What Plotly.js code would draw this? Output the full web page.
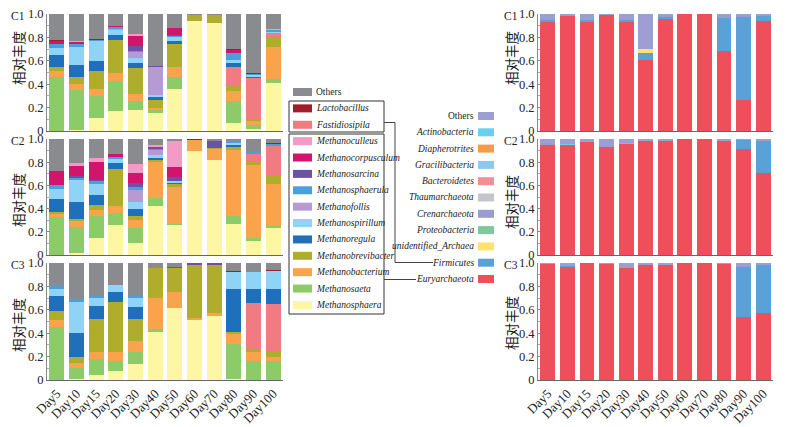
<!DOCTYPE html>
<html><head><meta charset="utf-8">
<script src="https://cdn.plot.ly/plotly-3.0.1.min.js"></script>
<style>html,body{margin:0;padding:0;background:#fff}#chart{width:799px;height:427px}</style>
</head><body><div id="chart"></div>
<script>
// ---------- categories ----------
const days = ["Day5","Day10","Day15","Day20","Day30","Day40","Day50","Day60","Day70","Day80","Day90","Day100"];

// ---------- genus level (left) : stack order bottom -> top ----------
const genera = ["Methanosphaera","Methanosaeta","Methanobacterium","Methanobrevibacter","Fastidiosipila","Methanoregula","Methanospirillum","Methanofollis","Methanosphaerula","Methanosarcina","Methanocorpusculum","Methanoculleus","Lactobacillus","Others"];
const genusColors = ["#fdf6a3","#8dca68","#f9a34d","#b1ad2c","#f07b80","#1f6fba","#8fd4f6","#b59bd2","#4aa0dc","#6b52a6","#d2146c","#f49ac6","#9e1f2b","#8a8b8f"];
const genusLegendOrder = ["Others","Lactobacillus","Fastidiosipila","Methanoculleus","Methanocorpusculum","Methanosarcina","Methanosphaerula","Methanofollis","Methanospirillum","Methanoregula","Methanobrevibacter","Methanobacterium","Methanosaeta","Methanosphaera"];

// C1
const c1_Methanosphaera     = [0, 0.01, 0.115, 0.17, 0.18, 0.155, 0.36, 0.94, 0.92, 0.07, 0.02, 0.41];
const c1_Methanosaeta       = [0.46, 0.34, 0.185, 0.26, 0.075, 0.025, 0.10, 0, 0, 0.19, 0.03, 0.035];
const c1_Methanobacterium   = [0.05, 0.05, 0.06, 0.07, 0.06, 0.02, 0.09, 0, 0, 0.08, 0.035, 0.275];
const c1_Methanobrevibacter = [0.035, 0.06, 0.15, 0.275, 0.225, 0.065, 0.195, 0.05, 0.07, 0.055, 0.015, 0.08];
const c1_Fastidiosipila     = [0, 0, 0, 0, 0, 0, 0, 0, 0, 0.155, 0.355, 0.04];
const c1_Methanoregula      = [0.105, 0.105, 0.09, 0.045, 0.04, 0.025, 0.025, 0, 0, 0.03, 0.01, 0];
const c1_Methanospirillum   = [0.06, 0.15, 0.165, 0.045, 0.045, 0.02, 0.03, 0, 0, 0.03, 0.01, 0.01];
const c1_Methanofollis      = [0, 0, 0, 0.01, 0.05, 0.235, 0, 0, 0, 0, 0, 0];
const c1_Methanosphaerula   = [0.035, 0.03, 0.015, 0.01, 0.005, 0, 0.01, 0, 0, 0.06, 0.01, 0.01];
const c1_Methanosarcina     = [0, 0, 0, 0, 0.05, 0.01, 0.01, 0, 0, 0, 0, 0];
const c1_Methanocorpusculum = [0.02, 0.015, 0, 0.01, 0.085, 0, 0.06, 0, 0, 0.02, 0, 0];
const c1_Methanoculleus     = [0, 0.005, 0, 0, 0.015, 0, 0, 0, 0, 0, 0, 0.01];
const c1_Lactobacillus      = [0.01, 0.005, 0.01, 0, 0, 0, 0, 0.005, 0.005, 0.01, 0.01, 0];
const c1_Others             = [0.225, 0.23, 0.21, 0.105, 0.17, 0.445, 0.12, 0.005, 0.005, 0.30, 0.505, 0.13];

// C2
const c2_Methanosphaera     = [0, 0.015, 0.145, 0.26, 0.105, 0.42, 0.255, 0.895, 0.82, 0.27, 0.125, 0.235];
const c2_Methanosaeta       = [0.33, 0.225, 0.19, 0.10, 0.13, 0.07, 0.015, 0, 0, 0.07, 0.025, 0.015];
const c2_Methanobacterium   = [0.025, 0.055, 0.055, 0.06, 0.065, 0.31, 0.32, 0.10, 0.09, 0.565, 0.625, 0.36];
const c2_Methanobrevibacter = [0.02, 0.015, 0.04, 0.325, 0.035, 0.02, 0.02, 0, 0.01, 0.03, 0.025, 0.075];
const c2_Fastidiosipila     = [0, 0, 0, 0, 0, 0, 0, 0, 0, 0, 0.07, 0.255];
const c2_Methanoregula      = [0.105, 0.145, 0.09, 0.045, 0.06, 0.02, 0.01, 0, 0, 0.015, 0, 0];
const c2_Methanospirillum   = [0.085, 0.19, 0.09, 0.04, 0.065, 0.02, 0.015, 0, 0, 0.015, 0, 0];
const c2_Methanofollis      = [0, 0, 0, 0, 0.10, 0.045, 0, 0, 0, 0, 0, 0];
const c2_Methanosphaerula   = [0.035, 0.02, 0.025, 0.015, 0.03, 0.01, 0, 0, 0, 0.015, 0.015, 0.015];
const c2_Methanosarcina     = [0, 0.015, 0.015, 0, 0.03, 0.015, 0.035, 0, 0.065, 0, 0, 0];
const c2_Methanocorpusculum = [0.125, 0.09, 0.15, 0.03, 0.09, 0.005, 0.09, 0, 0, 0, 0, 0];
const c2_Methanoculleus     = [0, 0.02, 0.04, 0, 0.075, 0.015, 0.225, 0, 0, 0, 0, 0];
const c2_Lactobacillus      = [0, 0, 0, 0, 0, 0, 0, 0.005, 0, 0, 0, 0.01];
const c2_Others             = [0.275, 0.21, 0.16, 0.125, 0.215, 0.05, 0.015, 0, 0.015, 0.02, 0.115, 0.035];

// C3
const c3_Methanosphaera     = [0, 0.005, 0.04, 0.08, 0.14, 0.41, 0.615, 0.515, 0.545, 0.01, 0, 0];
const c3_Methanosaeta       = [0.45, 0.10, 0.14, 0.08, 0.10, 0.03, 0, 0, 0, 0.30, 0.16, 0.16];
const c3_Methanobacterium   = [0.06, 0.04, 0.06, 0.08, 0.09, 0.265, 0.135, 0.015, 0.025, 0.08, 0.08, 0.04];
const c3_Methanobrevibacter = [0.08, 0.055, 0.28, 0.425, 0.19, 0.25, 0.205, 0.455, 0.415, 0.02, 0.015, 0.045];
const c3_Fastidiosipila     = [0, 0, 0, 0, 0, 0, 0, 0, 0, 0, 0.40, 0.405];
const c3_Methanoregula      = [0.125, 0.205, 0.115, 0.09, 0.10, 0, 0, 0, 0, 0.37, 0.12, 0.125];
const c3_Methanospirillum   = [0.065, 0.26, 0.065, 0.055, 0.08, 0, 0, 0, 0, 0.145, 0.145, 0.155];
const c3_Methanofollis      = [0, 0, 0, 0, 0, 0, 0, 0, 0, 0, 0, 0];
const c3_Methanosphaerula   = [0.03, 0.025, 0.02, 0, 0.02, 0.01, 0, 0, 0, 0, 0, 0];
const c3_Methanosarcina     = [0, 0, 0, 0, 0, 0, 0.01, 0.015, 0.015, 0, 0, 0];
const c3_Methanocorpusculum = [0, 0, 0, 0, 0, 0, 0, 0, 0, 0, 0, 0];
const c3_Methanoculleus     = [0, 0, 0, 0, 0, 0, 0, 0, 0, 0, 0, 0];
const c3_Lactobacillus      = [0.005, 0, 0, 0.005, 0, 0, 0, 0, 0, 0.005, 0, 0.01];
const c3_Others             = [0.185, 0.31, 0.28, 0.185, 0.28, 0.035, 0.035, 0, 0, 0.07, 0.08, 0.06];

// ---------- phylum level (right) : stack order bottom -> top ----------
const phyla = ["Euryarchaeota","Firmicutes","unidentified_Archaea","Proteobacteria","Crenarchaeota","Thaumarchaeota","Bacteroidetes","Gracilibacteria","Diapherotrites","Actinobacteria","Others"];
const phylumColors = ["#ef4e5b","#5aa1d8","#fde36c","#7fc89c","#9a9bcf","#c2c6ca","#f38d98","#8fc8ee","#f59b4c","#6ad0f0","#9d9ed2"];
const phylumLegendOrder = ["Others","Actinobacteria","Diapherotrites","Gracilibacteria","Bacteroidetes","Thaumarchaeota","Crenarchaeota","Proteobacteria","unidentified_Archaea","Firmicutes","Euryarchaeota"];
const zeros12 = [0,0,0,0,0,0,0,0,0,0,0,0];

const p1_Euryarchaeota   = [0.935, 0.985, 0.935, 0.99, 0.935, 0.61, 0.955, 1.0, 1.0, 0.68, 0.265, 0.94];
const p1_Firmicutes      = [0.015, 0, 0.01, 0, 0.015, 0.055, 0.02, 0, 0, 0.29, 0.71, 0.045];
const p1_unidentified    = [0, 0, 0, 0, 0, 0.035, 0, 0, 0, 0, 0, 0];
const p1_Crenarchaeota   = [0.01, 0.005, 0.005, 0, 0.01, 0.01, 0.01, 0, 0, 0.01, 0.005, 0];
const p1_Others          = [0.04, 0.01, 0.05, 0.01, 0.04, 0.29, 0.015, 0, 0, 0.02, 0.02, 0.015];

const p2_Euryarchaeota   = [0.95, 0.945, 0.97, 0.93, 0.96, 0.98, 0.98, 1.0, 1.0, 0.98, 0.91, 0.71];
const p2_Firmicutes      = [0, 0, 0, 0, 0, 0, 0, 0, 0, 0, 0.08, 0.275];
const p2_Actinobacteria  = [0, 0.01, 0, 0, 0, 0, 0, 0, 0, 0, 0, 0];
const p2_Bacteroidetes   = [0, 0, 0, 0, 0.005, 0, 0, 0, 0, 0, 0, 0];
const p2_Crenarchaeota   = [0.015, 0, 0.005, 0.01, 0, 0, 0.005, 0, 0, 0, 0, 0];
const p2_Others          = [0.035, 0.045, 0.025, 0.06, 0.035, 0.02, 0.015, 0, 0, 0.02, 0.01, 0.015];

const p3_Euryarchaeota   = [0.99, 0.965, 1.0, 0.99, 0.955, 0.985, 0.98, 1.0, 1.0, 0.995, 0.54, 0.57];
const p3_Firmicutes      = [0, 0.01, 0, 0, 0, 0, 0, 0, 0, 0, 0.425, 0.41];
const p3_Crenarchaeota   = [0.005, 0, 0, 0.005, 0.01, 0.005, 0.005, 0, 0, 0, 0.005, 0.005];
const p3_Others          = [0.005, 0.025, 0, 0.005, 0.035, 0.01, 0.015, 0, 0, 0.005, 0.03, 0.015];

// ---------- assemble ----------
const leftData = [
  [c1_Methanosphaera,c1_Methanosaeta,c1_Methanobacterium,c1_Methanobrevibacter,c1_Fastidiosipila,c1_Methanoregula,c1_Methanospirillum,c1_Methanofollis,c1_Methanosphaerula,c1_Methanosarcina,c1_Methanocorpusculum,c1_Methanoculleus,c1_Lactobacillus,c1_Others],
  [c2_Methanosphaera,c2_Methanosaeta,c2_Methanobacterium,c2_Methanobrevibacter,c2_Fastidiosipila,c2_Methanoregula,c2_Methanospirillum,c2_Methanofollis,c2_Methanosphaerula,c2_Methanosarcina,c2_Methanocorpusculum,c2_Methanoculleus,c2_Lactobacillus,c2_Others],
  [c3_Methanosphaera,c3_Methanosaeta,c3_Methanobacterium,c3_Methanobrevibacter,c3_Fastidiosipila,c3_Methanoregula,c3_Methanospirillum,c3_Methanofollis,c3_Methanosphaerula,c3_Methanosarcina,c3_Methanocorpusculum,c3_Methanoculleus,c3_Lactobacillus,c3_Others]
];
const rightData = [
  [p1_Euryarchaeota,p1_Firmicutes,p1_unidentified,zeros12,p1_Crenarchaeota,zeros12,zeros12,zeros12,zeros12,zeros12,p1_Others],
  [p2_Euryarchaeota,p2_Firmicutes,zeros12,zeros12,p2_Crenarchaeota,zeros12,p2_Bacteroidetes,zeros12,zeros12,p2_Actinobacteria,p2_Others],
  [p3_Euryarchaeota,p3_Firmicutes,zeros12,zeros12,p3_Crenarchaeota,zeros12,zeros12,zeros12,zeros12,zeros12,p3_Others]
];
const panelLabels = ["C1","C2","C3"];

const W = 799, H = 427;
const px = x => x / W, py = y => 1 - y / H;
const serif = "Liberation Serif, Times New Roman, serif";
const cjk = "Noto Sans CJK SC, sans-serif";

const leftX = [47, 283], rightX = [538, 773];
const rowsY = [[14, 131], [139, 255], [263, 380]];

const traces = [];
const layout = {
  width: W, height: H, margin: {l:0, r:0, t:0, b:0},
  paper_bgcolor: "#fff", plot_bgcolor: "#fff",
  barmode: "stack", bargap: 0.24, showlegend: false,
  annotations: [], shapes: []
};

function axisPair(idx, xr, yr, showX) {
  const xs = idx === 1 ? "" : String(idx);
  layout["xaxis" + xs] = {
    domain: [px(xr[0]), px(xr[1])], anchor: "y" + xs, type: "category",
    range: [-0.5, 11.5], showline: true, linecolor: "#666", linewidth: 1,
    ticks: "", showgrid: false, zeroline: false, showticklabels: showX,
    tickangle: -45, tickfont: {family: serif, size: 13, color: "#222"}
  };
  layout["yaxis" + xs] = {
    domain: [py(yr[1]), py(yr[0])], anchor: "x" + xs, range: [0, 1],
    showline: true, linecolor: "#888", linewidth: 1, showgrid: false, zeroline: false,
    tickmode: "array", tickvals: [0, 0.2, 0.4, 0.6, 0.8, 1.0],
    ticktext: ["0", "0.2", "0.4", "0.6", "0.8", "1.0"],
    ticks: "inside", ticklen: 3, tickcolor: "#888",
    minor: {tickmode: "linear", tick0: 0, dtick: 0.1, ticks: "inside", ticklen: 2, tickcolor: "#aaa"},
    tickfont: {family: serif, size: 12.5, color: "#222"}
  };
  return xs;
}

function addPanel(idx, xr, yr, series, names, colors, labelX, titleY, label) {
  const xs = axisPair(idx, xr, yr, idx === 3 || idx === 6);
  series.forEach((vals, i) => {
    traces.push({
      type: "bar", x: days, y: vals, name: names[i],
      xaxis: "x" + xs, yaxis: "y" + xs,
      marker: {color: colors[i], line: {width: 0}}, hoverinfo: "name+y"
    });
  });
  layout.annotations.push({
    xref: "paper", yref: "paper", x: px(labelX), y: py(yr[0] + 1.5), text: label,
    showarrow: false, xanchor: "center", yanchor: "middle",
    font: {family: serif, size: 11.5, color: "#222"}
  });
  layout.annotations.push({
    xref: "paper", yref: "paper", x: px(labelX), y: py(titleY), text: "相对丰度",
    textangle: -90, showarrow: false, xanchor: "center", yanchor: "middle",
    font: {family: cjk, size: 13.5, color: "#1a1a1a"}
  });
}

const leftTitleY = [58, 200, 325];
const rightTitleY = [58, 202, 323];
for (let r = 0; r < 3; r++) {
  addPanel(r + 1, leftX, rowsY[r], leftData[r], genera, genusColors, 18, leftTitleY[r], panelLabels[r]);
}
for (let r = 0; r < 3; r++) {
  addPanel(r + 4, rightX, rowsY[r], rightData[r], phyla, phylumColors, 511, rightTitleY[r], panelLabels[r]);
}

// ---------- legends ----------
function rect(x0, y0, x1, y1, fill, line) {
  layout.shapes.push({type: "rect", xref: "paper", yref: "paper",
    x0: px(x0), x1: px(x1), y0: py(y1), y1: py(y0),
    fillcolor: fill || "rgba(0,0,0,0)", line: line || {width: 0}});
}
function seg(x0, y0, x1, y1) {
  layout.shapes.push({type: "line", xref: "paper", yref: "paper",
    x0: px(x0), x1: px(x1), y0: py(y0), y1: py(y1), line: {color: "#444", width: 1}});
}

genusLegendOrder.forEach((name, i) => {
  const cy = 92 + i * 16.38;
  const col = genusColors[genera.indexOf(name)];
  rect(293, cy - 4, 312, cy + 4, col);
  layout.annotations.push({
    xref: "paper", yref: "paper", x: px(314), y: py(cy), xanchor: "left", yanchor: "middle",
    text: name === "Others" ? name : "<i>" + name + "</i>", showarrow: false,
    font: {family: serif, size: 9.5, color: "#222"}
  });
});
phylumLegendOrder.forEach((name, i) => {
  const cy = 116 + i * 16.3;
  const col = phylumColors[phyla.indexOf(name)];
  rect(478, cy - 4, 494, cy + 4, col);
  layout.annotations.push({
    xref: "paper", yref: "paper", x: px(476), y: py(cy), xanchor: "right", yanchor: "middle",
    text: name === "Others" ? name : "<i>" + name + "</i>", showarrow: false,
    font: {family: serif, size: 9.5, color: "#222"}
  });
});

// group boxes and connectors
rect(289, 101, 384, 132, null, {color: "#333", width: 1});
rect(289, 134, 384, 314, null, {color: "#333", width: 1});
seg(384, 122.5, 395, 122.5);
seg(395, 122.5, 395, 262.5);
seg(395, 262.5, 433, 262.5);
seg(384, 279.5, 416, 279.5);

Plotly.newPlot("chart", traces, layout, {displayModeBar: false, staticPlot: true});
</script></body></html>
